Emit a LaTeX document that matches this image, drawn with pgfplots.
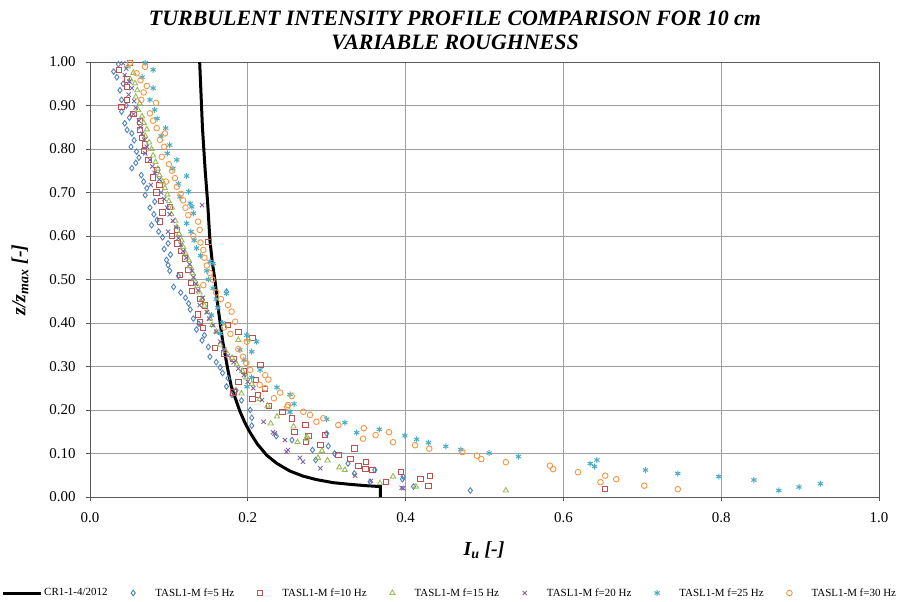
\documentclass[border=0pt]{standalone}
\usepackage{pgfplots}
\pgfplotsset{compat=1.18}
\usepackage{fontspec}
\setmainfont{Liberation Serif}
\definecolor{cblue}{HTML}{4F81BD}
\definecolor{cred}{HTML}{C0504D}
\definecolor{cgreen}{HTML}{9BBB59}
\definecolor{cpurple}{HTML}{8064A2}
\definecolor{ccyan}{HTML}{4BACC6}
\definecolor{corange}{HTML}{F79646}
\begin{document}
\begin{tikzpicture}
\path[use as bounding box] (-90bp,-105bp) rectangle (809bp,497bp);
\begin{axis}[
  at={(0,0)}, anchor=south west,
  scale only axis, width=789bp, height=435bp,
  xmin=0, xmax=1, ymin=0, ymax=1,
  xtick={0,0.2,...,1.0}, ytick={0,0.1,...,1.0},
  xtick pos=bottom, ytick pos=left,
  tick align=outside, major tick length=4bp,
  xmajorgrids, ymajorgrids,
  grid style={gray!75, line width=0.9bp},
  axis line style={gray!70!black, line width=0.9bp},
  tick style={gray!70!black, line width=0.8bp},
  /pgf/number format/assume math mode=true,
  xticklabel style={/pgf/number format/.cd, fixed, fixed zerofill, precision=1, /tikz/.cd, font=\fontsize{15}{17}\selectfont, yshift=-8bp},
  yticklabel style={/pgf/number format/.cd, fixed, fixed zerofill, precision=2, /tikz/.cd, font=\fontsize{15}{17}\selectfont, xshift=-7bp},
  scaled ticks=false,
  legend style={at={(-89bp,-96bp)}, anchor=west, draw=none, fill=none,
    legend columns=-1, font=\fontsize{11}{13}\selectfont,
    nodes={inner sep=1bp},
    /tikz/every odd column/.append style={column sep=1bp},
    /tikz/every even column/.append style={column sep=20.5bp},
    inner sep=0pt},
  legend cell align=left,
  legend image code/.code={\path (0bp,0bp) (24bp,0bp); \draw[mark repeat=2,mark phase=2,#1] plot coordinates {(0bp,0bp)(4bp,0bp)(8bp,0bp)};},
]
\addplot[black, line width=3bp, mark=none,
  legend image code/.code={\draw[black, line width=3bp] (0bp,0bp) -- (38bp,0bp);}]
coordinates {(0.139,1.0)(0.1425,0.85)(0.146,0.75)(0.149,0.68)(0.152,0.59)(0.155,0.54)(0.159,0.49)(0.162,0.44)(0.165,0.40)(0.168,0.36)(0.171,0.33)(0.175,0.29)(0.179,0.255)(0.184,0.228)(0.190,0.197)(0.196,0.172)(0.203,0.148)(0.212,0.122)(0.224,0.096)(0.237,0.077)(0.253,0.060)(0.270,0.048)(0.287,0.040)(0.308,0.033)(0.330,0.029)(0.350,0.026)(0.368,0.024)(0.368,0.0)};
\addlegendentry{CR1-1-4/2012}

\addplot[only marks, mark=diamond, mark size=2.8bp, cblue, mark options={line width=0.9bp}]
coordinates {(0.030,0.978)(0.036,0.995)(0.034,0.965)(0.042,0.95)(0.038,0.935)(0.040,0.913)(0.046,0.90)(0.040,0.886)(0.050,0.872)(0.044,0.859)(0.047,0.844)(0.053,0.836)(0.056,0.82)(0.052,0.805)(0.059,0.794)(0.062,0.78)(0.058,0.768)(0.053,0.756)(0.065,0.740)(0.068,0.725)(0.072,0.71)(0.070,0.694)(0.082,0.679)(0.076,0.665)(0.081,0.65)(0.085,0.637)(0.078,0.625)(0.087,0.610)(0.092,0.597)(0.099,0.583)(0.094,0.57)(0.102,0.557)(0.097,0.545)(0.099,0.533)(0.101,0.520)(0.112,0.508)(0.106,0.483)(0.173,0.472)(0.115,0.47)(0.121,0.458)(0.125,0.445)(0.127,0.431)(0.131,0.41)(0.138,0.398)(0.135,0.385)(0.145,0.372)(0.142,0.36)(0.150,0.345)(0.152,0.3225)(0.160,0.31)(0.165,0.298)(0.168,0.285)(0.175,0.273)(0.173,0.254)(0.185,0.245)(0.180,0.235)(0.192,0.222)(0.203,0.200)(0.205,0.182)(0.205,0.164)(0.236,0.140)(0.256,0.131)(0.300,0.146)(0.302,0.117)(0.282,0.108)(0.310,0.100)(0.286,0.085)(0.327,0.077)(0.361,0.062)(0.335,0.054)(0.397,0.047)(0.396,0.041)(0.355,0.035)(0.410,0.024)(0.482,0.015)};
\addlegendentry{TASL1-M f=5 Hz}

\addplot[only marks, mark=square, mark size=2.7bp, cred, mark options={line width=0.9bp}]
coordinates {(0.051,0.998)(0.037,0.982)(0.047,0.960)(0.047,0.943)(0.047,0.913)(0.040,0.897)(0.055,0.88)(0.063,0.863)(0.063,0.844)(0.066,0.825)(0.070,0.81)(0.068,0.795)(0.074,0.775)(0.085,0.752)(0.080,0.735)(0.088,0.718)(0.084,0.70)(0.090,0.68)(0.101,0.667)(0.092,0.654)(0.089,0.633)(0.110,0.614)(0.104,0.60)(0.111,0.583)(0.150,0.587)(0.116,0.565)(0.120,0.548)(0.125,0.522)(0.114,0.510)(0.128,0.492)(0.129,0.474)(0.140,0.455)(0.146,0.44)(0.137,0.420)(0.139,0.403)(0.143,0.388)(0.175,0.395)(0.188,0.380)(0.206,0.365)(0.158,0.342)(0.170,0.33)(0.182,0.318)(0.216,0.3035)(0.195,0.29)(0.188,0.265)(0.210,0.269)(0.222,0.248)(0.182,0.240)(0.213,0.2345)(0.206,0.225)(0.227,0.210)(0.244,0.196)(0.256,0.181)(0.273,0.166)(0.259,0.149)(0.298,0.1425)(0.277,0.140)(0.274,0.126)(0.292,0.1195)(0.335,0.112)(0.315,0.097)(0.330,0.087)(0.350,0.081)(0.340,0.072)(0.349,0.065)(0.358,0.062)(0.394,0.057)(0.431,0.049)(0.419,0.041)(0.375,0.035)(0.429,0.026)(0.653,0.018)};
\addlegendentry{TASL1-M f=10 Hz}

\addplot[only marks, mark=triangle, mark size=3bp, cgreen, mark options={line width=0.9bp}]
coordinates {(0.048,0.99)(0.055,0.975)(0.051,0.96)(0.057,0.951)(0.060,0.935)(0.058,0.92)(0.063,0.905)(0.061,0.89)(0.066,0.875)(0.068,0.86)(0.072,0.845)(0.070,0.83)(0.075,0.815)(0.078,0.80)(0.080,0.785)(0.083,0.77)(0.086,0.755)(0.088,0.74)(0.092,0.725)(0.095,0.71)(0.098,0.695)(0.100,0.68)(0.104,0.665)(0.103,0.65)(0.108,0.635)(0.110,0.62)(0.113,0.605)(0.116,0.59)(0.118,0.575)(0.121,0.56)(0.125,0.545)(0.127,0.53)(0.130,0.515)(0.132,0.50)(0.136,0.485)(0.139,0.47)(0.142,0.455)(0.145,0.44)(0.149,0.425)(0.152,0.41)(0.155,0.395)(0.160,0.38)(0.188,0.361)(0.2007,0.3625)(0.165,0.35)(0.172,0.335)(0.180,0.32)(0.186,0.305)(0.193,0.29)(0.198,0.275)(0.205,0.26)(0.192,0.238)(0.215,0.225)(0.225,0.21)(0.237,0.185)(0.229,0.169)(0.258,0.162)(0.275,0.139)(0.263,0.126)(0.2745,0.134)(0.294,0.106)(0.289,0.090)(0.301,0.084)(0.316,0.068)(0.323,0.062)(0.384,0.047)(0.3675,0.0315)(0.413,0.024)(0.527,0.015)};
\addlegendentry{TASL1-M f=15 Hz}

\addplot[only marks, mark=x, mark size=3bp, cpurple, mark options={line width=0.9bp}]
coordinates {(0.042,0.997)(0.046,0.985)(0.044,0.97)(0.050,0.955)(0.053,0.94)(0.049,0.925)(0.056,0.91)(0.058,0.895)(0.055,0.88)(0.062,0.865)(0.064,0.85)(0.066,0.835)(0.069,0.82)(0.072,0.805)(0.070,0.79)(0.076,0.775)(0.079,0.76)(0.082,0.745)(0.077,0.717)(0.088,0.73)(0.090,0.70)(0.094,0.685)(0.142,0.671)(0.098,0.665)(0.101,0.65)(0.105,0.635)(0.099,0.61)(0.109,0.62)(0.112,0.595)(0.115,0.58)(0.118,0.565)(0.122,0.55)(0.126,0.535)(0.129,0.52)(0.131,0.505)(0.134,0.49)(0.137,0.475)(0.139,0.441)(0.143,0.458)(0.148,0.425)(0.151,0.41)(0.156,0.395)(0.160,0.38)(0.165,0.357)(0.170,0.34)(0.175,0.325)(0.182,0.31)(0.188,0.295)(0.195,0.28)(0.200,0.265)(0.207,0.25)(0.218,0.223)(0.220,0.173)(0.232,0.149)(0.234,0.146)(0.247,0.131)(0.251,0.108)(0.266,0.090)(0.270,0.081)(0.249,0.104)(0.292,0.066)(0.336,0.049)(0.356,0.037)(0.395,0.021)(0.397,0.020)};
\addlegendentry{TASL1-M f=20 Hz}

\addplot[only marks, mark=asterisk, mark size=3bp, ccyan, mark options={line width=1bp}]
coordinates {(0.070,0.998)(0.080,0.982)(0.066,0.965)(0.080,0.940)(0.076,0.913)(0.082,0.89)(0.085,0.87)(0.096,0.848)(0.090,0.83)(0.101,0.809)(0.098,0.79)(0.110,0.775)(0.105,0.755)(0.1225,0.738)(0.112,0.72)(0.125,0.702)(0.114,0.690)(0.127,0.675)(0.129,0.667)(0.131,0.652)(0.1225,0.629)(0.128,0.61)(0.132,0.59)(0.135,0.572)(0.140,0.555)(0.152,0.541)(0.156,0.537)(0.148,0.52)(0.150,0.50)(0.156,0.48)(0.173,0.468)(0.160,0.455)(0.162,0.435)(0.154,0.418)(0.168,0.40)(0.165,0.376)(0.1986,0.372)(0.211,0.357)(0.190,0.338)(0.205,0.334)(0.195,0.315)(0.2155,0.292)(0.205,0.275)(0.199,0.2536)(0.237,0.252)(0.2535,0.236)(0.2586,0.214)(0.2535,0.195)(0.300,0.179)(0.323,0.171)(0.3667,0.1556)(0.338,0.148)(0.399,0.141)(0.414,0.1325)(0.429,0.125)(0.451,0.1165)(0.470,0.109)(0.506,0.101)(0.543,0.093)(0.6425,0.085)(0.634,0.077)(0.6395,0.070)(0.704,0.062)(0.745,0.054)(0.797,0.047)(0.8415,0.039)(0.9256,0.0306)(0.8986,0.023)(0.873,0.015)};
\addlegendentry{TASL1-M f=25 Hz}

\addplot[only marks, mark=o, mark size=2.8bp, corange, mark options={line width=0.9bp}]
coordinates {(0.0507,0.998)(0.0697,0.989)(0.059,0.974)(0.064,0.958)(0.072,0.945)(0.068,0.93)(0.065,0.913)(0.0837,0.906)(0.076,0.882)(0.080,0.865)(0.0845,0.848)(0.095,0.836)(0.0887,0.821)(0.094,0.805)(0.091,0.782)(0.100,0.765)(0.104,0.750)(0.1077,0.733)(0.0963,0.725)(0.110,0.713)(0.115,0.697)(0.118,0.682)(0.121,0.665)(0.1246,0.648)(0.137,0.633)(0.139,0.614)(0.131,0.60)(0.140,0.585)(0.1436,0.568)(0.145,0.55)(0.148,0.532)(0.152,0.515)(0.155,0.50)(0.1436,0.487)(0.160,0.47)(0.175,0.441)(0.166,0.455)(0.1795,0.426)(0.184,0.403)(0.170,0.39)(0.178,0.375)(0.1986,0.357)(0.188,0.34)(0.194,0.3225)(0.198,0.308)(0.203,0.292)(0.222,0.28)(0.226,0.27)(0.215,0.258)(0.222,0.25)(0.241,0.24)(0.233,0.227)(0.2556,0.232)(0.25,0.2076)(0.251,0.2115)(0.2704,0.196)(0.2788,0.1885)(0.2957,0.181)(0.287,0.173)(0.3147,0.1655)(0.347,0.158)(0.379,0.149)(0.362,0.1425)(0.346,0.134)(0.384,0.126)(0.412,0.119)(0.430,0.111)(0.472,0.103)(0.4905,0.095)(0.496,0.087)(0.527,0.080)(0.583,0.072)(0.587,0.064)(0.6185,0.057)(0.653,0.049)(0.667,0.041)(0.647,0.034)(0.7025,0.026)(0.745,0.018)};
\addlegendentry{TASL1-M f=30 Hz}
\end{axis}
\node[align=center, font=\fontsize{22}{24}\selectfont\bfseries\itshape] at (365bp,467bp) {TURBULENT INTENSITY PROFILE COMPARISON FOR 10 cm\\VARIABLE ROUGHNESS};
\node[rotate=90, font=\fontsize{20}{24}\selectfont\bfseries\itshape] at (-70bp,217bp) {z/z\textsubscript{max} [-]};
\node[font=\fontsize{20}{24}\selectfont\bfseries\itshape] at (394bp,-53bp) {I\textsubscript{u} [-]};
\end{tikzpicture}
\end{document}
